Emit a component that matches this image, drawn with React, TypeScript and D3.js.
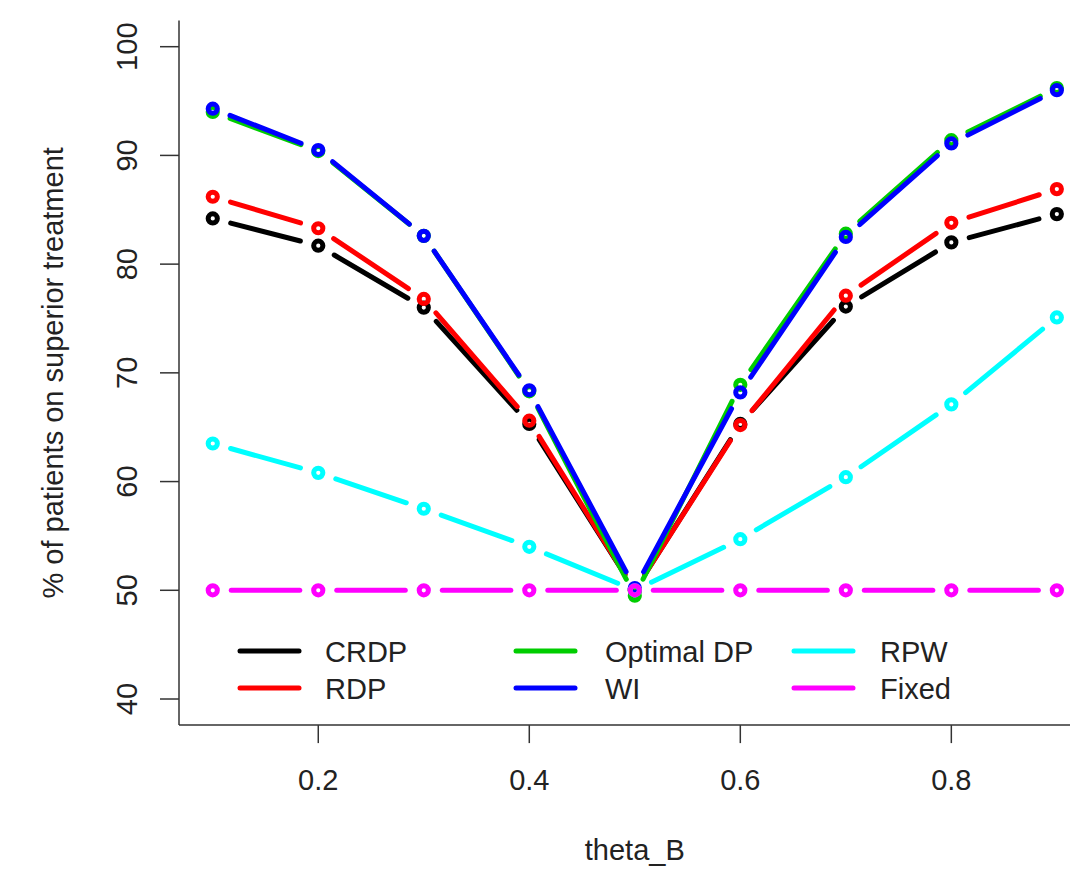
import React from "react";
import * as d3 from "d3";

const thetaB = [0.1, 0.2, 0.3, 0.4, 0.5, 0.6, 0.7, 0.8, 0.9];
const crdp = [84.2, 81.7, 76.0, 65.3, 50.0, 65.3, 76.1, 82.0, 84.6];
const rdp = [86.2, 83.3, 76.8, 65.6, 50.0, 65.2, 77.1, 83.8, 86.9];
const optimalDP = [94.0, 90.4, 82.6, 68.3, 49.5, 68.9, 82.8, 91.4, 96.2];
const wi = [94.3, 90.5, 82.6, 68.4, 50.2, 68.2, 82.5, 91.1, 96.0];
const rpw = [63.5, 60.8, 57.5, 54.0, 50.0, 54.7, 60.4, 67.1, 75.1];
const fixed = [50, 50, 50, 50, 50, 50, 50, 50, 50];

const seriesNames = ["CRDP", "RDP", "Optimal DP", "WI", "RPW", "Fixed"];
const seriesColors = ["#000000", "#ff0000", "#00cd00", "#0000ff", "#00ffff", "#ff00ff"];
const seriesValues = [crdp, rdp, optimalDP, wi, rpw, fixed];

const xTicks = [0.2, 0.4, 0.6, 0.8];
const yTicks = [40, 50, 60, 70, 80, 90, 100];

const W = 1070;
const H = 885;
const FONT = "'Liberation Sans', Arial, sans-serif";
const TEXT = "#222";

// R style: 4% padding on both sides of the data range
const x = d3.scaleLinear().domain([0.068, 0.932]).range([179, 1090.6]);
const y = d3.scaleLinear().domain([37.6, 102.4]).range([725.1, 20.6]);

// type = "b": segments stop short of each point
function gappedSegments(vals: number[], gap: number) {
  const segs: { x1: number; y1: number; x2: number; y2: number }[] = [];
  for (let i = 0; i < vals.length - 1; i++) {
    const ax = x(thetaB[i]), ay = y(vals[i]);
    const bx = x(thetaB[i + 1]), by = y(vals[i + 1]);
    const len = Math.hypot(bx - ax, by - ay);
    if (len <= gap * 2) continue;
    const ux = (bx - ax) / len, uy = (by - ay) / len;
    segs.push({ x1: ax + ux * gap, y1: ay + uy * gap, x2: bx - ux * gap, y2: by - uy * gap });
  }
  return segs;
}

const App = () => {
  const bottom = y.range()[0];
  const left = x.range()[0];

  return (
    <svg width={W} height={H} style={{ position: "absolute", left: 0, top: 0, background: "#fff" }} fontFamily={FONT}>
      {/* axes, bty = "l" */}
      <line x1={left} x2={W} y1={bottom} y2={bottom} stroke="#333" strokeWidth={1.5} />
      <line x1={left} x2={left} y1={y.range()[1]} y2={bottom} stroke="#333" strokeWidth={1.5} />

      {xTicks.map((t) => (
        <g key={t}>
          <line x1={x(t)} x2={x(t)} y1={bottom} y2={bottom + 18} stroke="#333" strokeWidth={1.5} />
          <text x={x(t)} y={790} textAnchor="middle" fontSize={29} fill={TEXT}>
            {d3.format(".1f")(t)}
          </text>
        </g>
      ))}

      {yTicks.map((t) => (
        <g key={t}>
          <line x1={left - 19} x2={left} y1={y(t)} y2={y(t)} stroke="#333" strokeWidth={1.5} />
          <text
            transform={`translate(137,${y(t)}) rotate(-90)`}
            textAnchor="middle"
            fontSize={29}
            fill={TEXT}
          >
            {t}
          </text>
        </g>
      ))}

      <text x={(x.range()[0] + x.range()[1]) / 2} y={860} textAnchor="middle" fontSize={29} fill={TEXT}>
        theta_B
      </text>
      <text
        transform={`translate(63,${(y.range()[0] + y.range()[1]) / 2}) rotate(-90)`}
        textAnchor="middle"
        fontSize={29}
        fill={TEXT}
      >
        % of patients on superior treatment
      </text>

      {/* series */}
      {seriesValues.map((vals, si) => (
        <g key={seriesNames[si]}>
          {gappedSegments(vals, 18.5).map((s, i) => (
            <line
              key={i}
              {...s}
              stroke={seriesColors[si]}
              strokeWidth={5}
              strokeLinecap="round"
            />
          ))}
          {vals.map((v, i) => (
            <circle
              key={i}
              cx={x(thetaB[i])}
              cy={y(v)}
              r={4.6}
              fill="none"
              stroke={seriesColors[si]}
              strokeWidth={5}
            />
          ))}
        </g>
      ))}

      {/* legend: 3 columns x 2 rows */}
      {seriesNames.map((name, i) => {
        const col = Math.floor(i / 2);
        const row = i % 2;
        const lx = [240, 516, 794][col];
        const tx = [325, 605, 880][col];
        const ly = [651, 688][row];
        return (
          <g key={name}>
            <line x1={lx} x2={lx + 59} y1={ly} y2={ly} stroke={seriesColors[i]} strokeWidth={5} strokeLinecap="round" />
            <text x={tx} y={ly + 11} fontSize={29} fill={TEXT}>
              {name}
            </text>
          </g>
        );
      })}
    </svg>
  );
};

export default App;
